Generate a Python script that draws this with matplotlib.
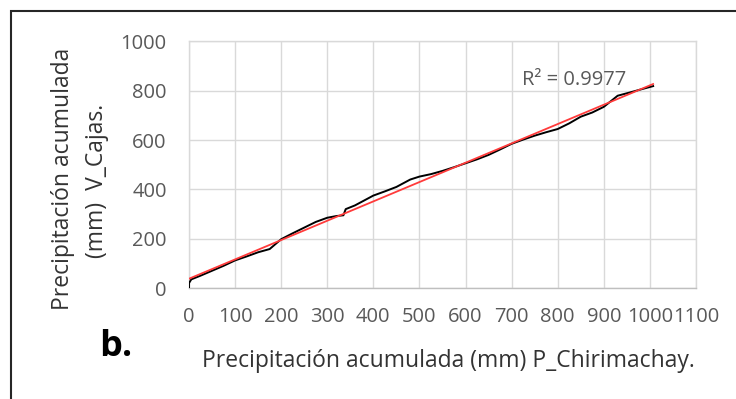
import numpy as np
import matplotlib
matplotlib.use("Agg")
import matplotlib.pyplot as plt
from matplotlib.patches import Rectangle

# Cumulative precipitation: P_Chirimachay (x) vs V_Cajas (y), mm
p_chirimachay = [0, 0, 5, 25, 50, 75, 100, 125, 150, 175, 200, 225, 250, 275, 300, 320,
                 335, 340, 360, 380, 400, 425, 450, 480, 500, 525, 550, 575, 600, 625,
                 650, 675, 700, 725, 750, 775, 800, 825, 850, 875, 900, 930, 960, 985, 1007]
v_cajas = [0, 20, 35, 50, 70, 90, 112, 128, 145, 158, 198, 222, 245, 268, 285, 292,
           295, 320, 335, 355, 375, 392, 410, 440, 452, 462, 475, 490, 506, 522,
           540, 562, 585, 602, 618, 632, 645, 668, 695, 712, 735, 780, 795, 808, 819]
r2_label = "R² = 0.9977"
x_ticks = list(range(0, 1101, 100))
y_ticks = list(range(0, 1001, 200))

plt.rcParams['font.family'] = ['Open Sans', 'DejaVu Sans']

fig = plt.figure(figsize=(7.36, 3.99), dpi=100)
ax = fig.add_axes([189 / 736, 1 - 288 / 399, (696 - 189) / 736, (288 - 41.5) / 399])

x = np.array(p_chirimachay, dtype=float)
y = np.array(v_cajas, dtype=float)

ax.plot(x, y, color="black", lw=1.4, zorder=3)

# Linear trend line over the data range
slope, intercept = np.polyfit(x, y, 1)
xt = np.array([x.min(), x.max()])
ax.plot(xt, slope * xt + intercept, color="#ff3b3b", lw=1.3, zorder=4)

ax.set_xlim(0, 1100)
ax.set_ylim(0, 1000)
ax.set_xticks(x_ticks)
ax.set_yticks(y_ticks)
ax.grid(True, color="#d9d9d9", lw=1.0)
ax.set_axisbelow(True)
for s in ax.spines.values():
    s.set_color("#d9d9d9")
    s.set_linewidth(1.0)
ax.spines['bottom'].set_color("#bfbfbf")
ax.tick_params(length=0, labelsize=14.5, labelcolor="#595959", pad=14)
ax.tick_params(axis='y', pad=16)

ax.text(722, 845, r2_label, fontsize=14.5, color="#595959", ha="left", va="center")

fig.text(448 / 736, 1 - 361 / 399, "Precipitación acumulada (mm) P_Chirimachay.",
         fontsize=16.5, color="#333333", ha="center", va="center")
fig.text(63 / 736, 1 - 179 / 399, "Precipitación acumulada",
         fontsize=16.5, color="#333333", ha="center", va="center", rotation=90)
fig.text(97 / 736, 1 - 181 / 399, "(mm)  V_Cajas.",
         fontsize=16.5, color="#333333", ha="center", va="center", rotation=90)
fig.text(116 / 736, 1 - 347 / 399, "b.", fontsize=26, fontweight="bold",
         color="black", ha="center", va="center")

fig.patches.append(Rectangle((11 / 736, -0.1), 1.2, 1 - 11 / 399 + 0.1,
                             transform=fig.transFigure, fill=False,
                             edgecolor="#262626", lw=1.5))

fig.savefig("out.png", dpi=100)
